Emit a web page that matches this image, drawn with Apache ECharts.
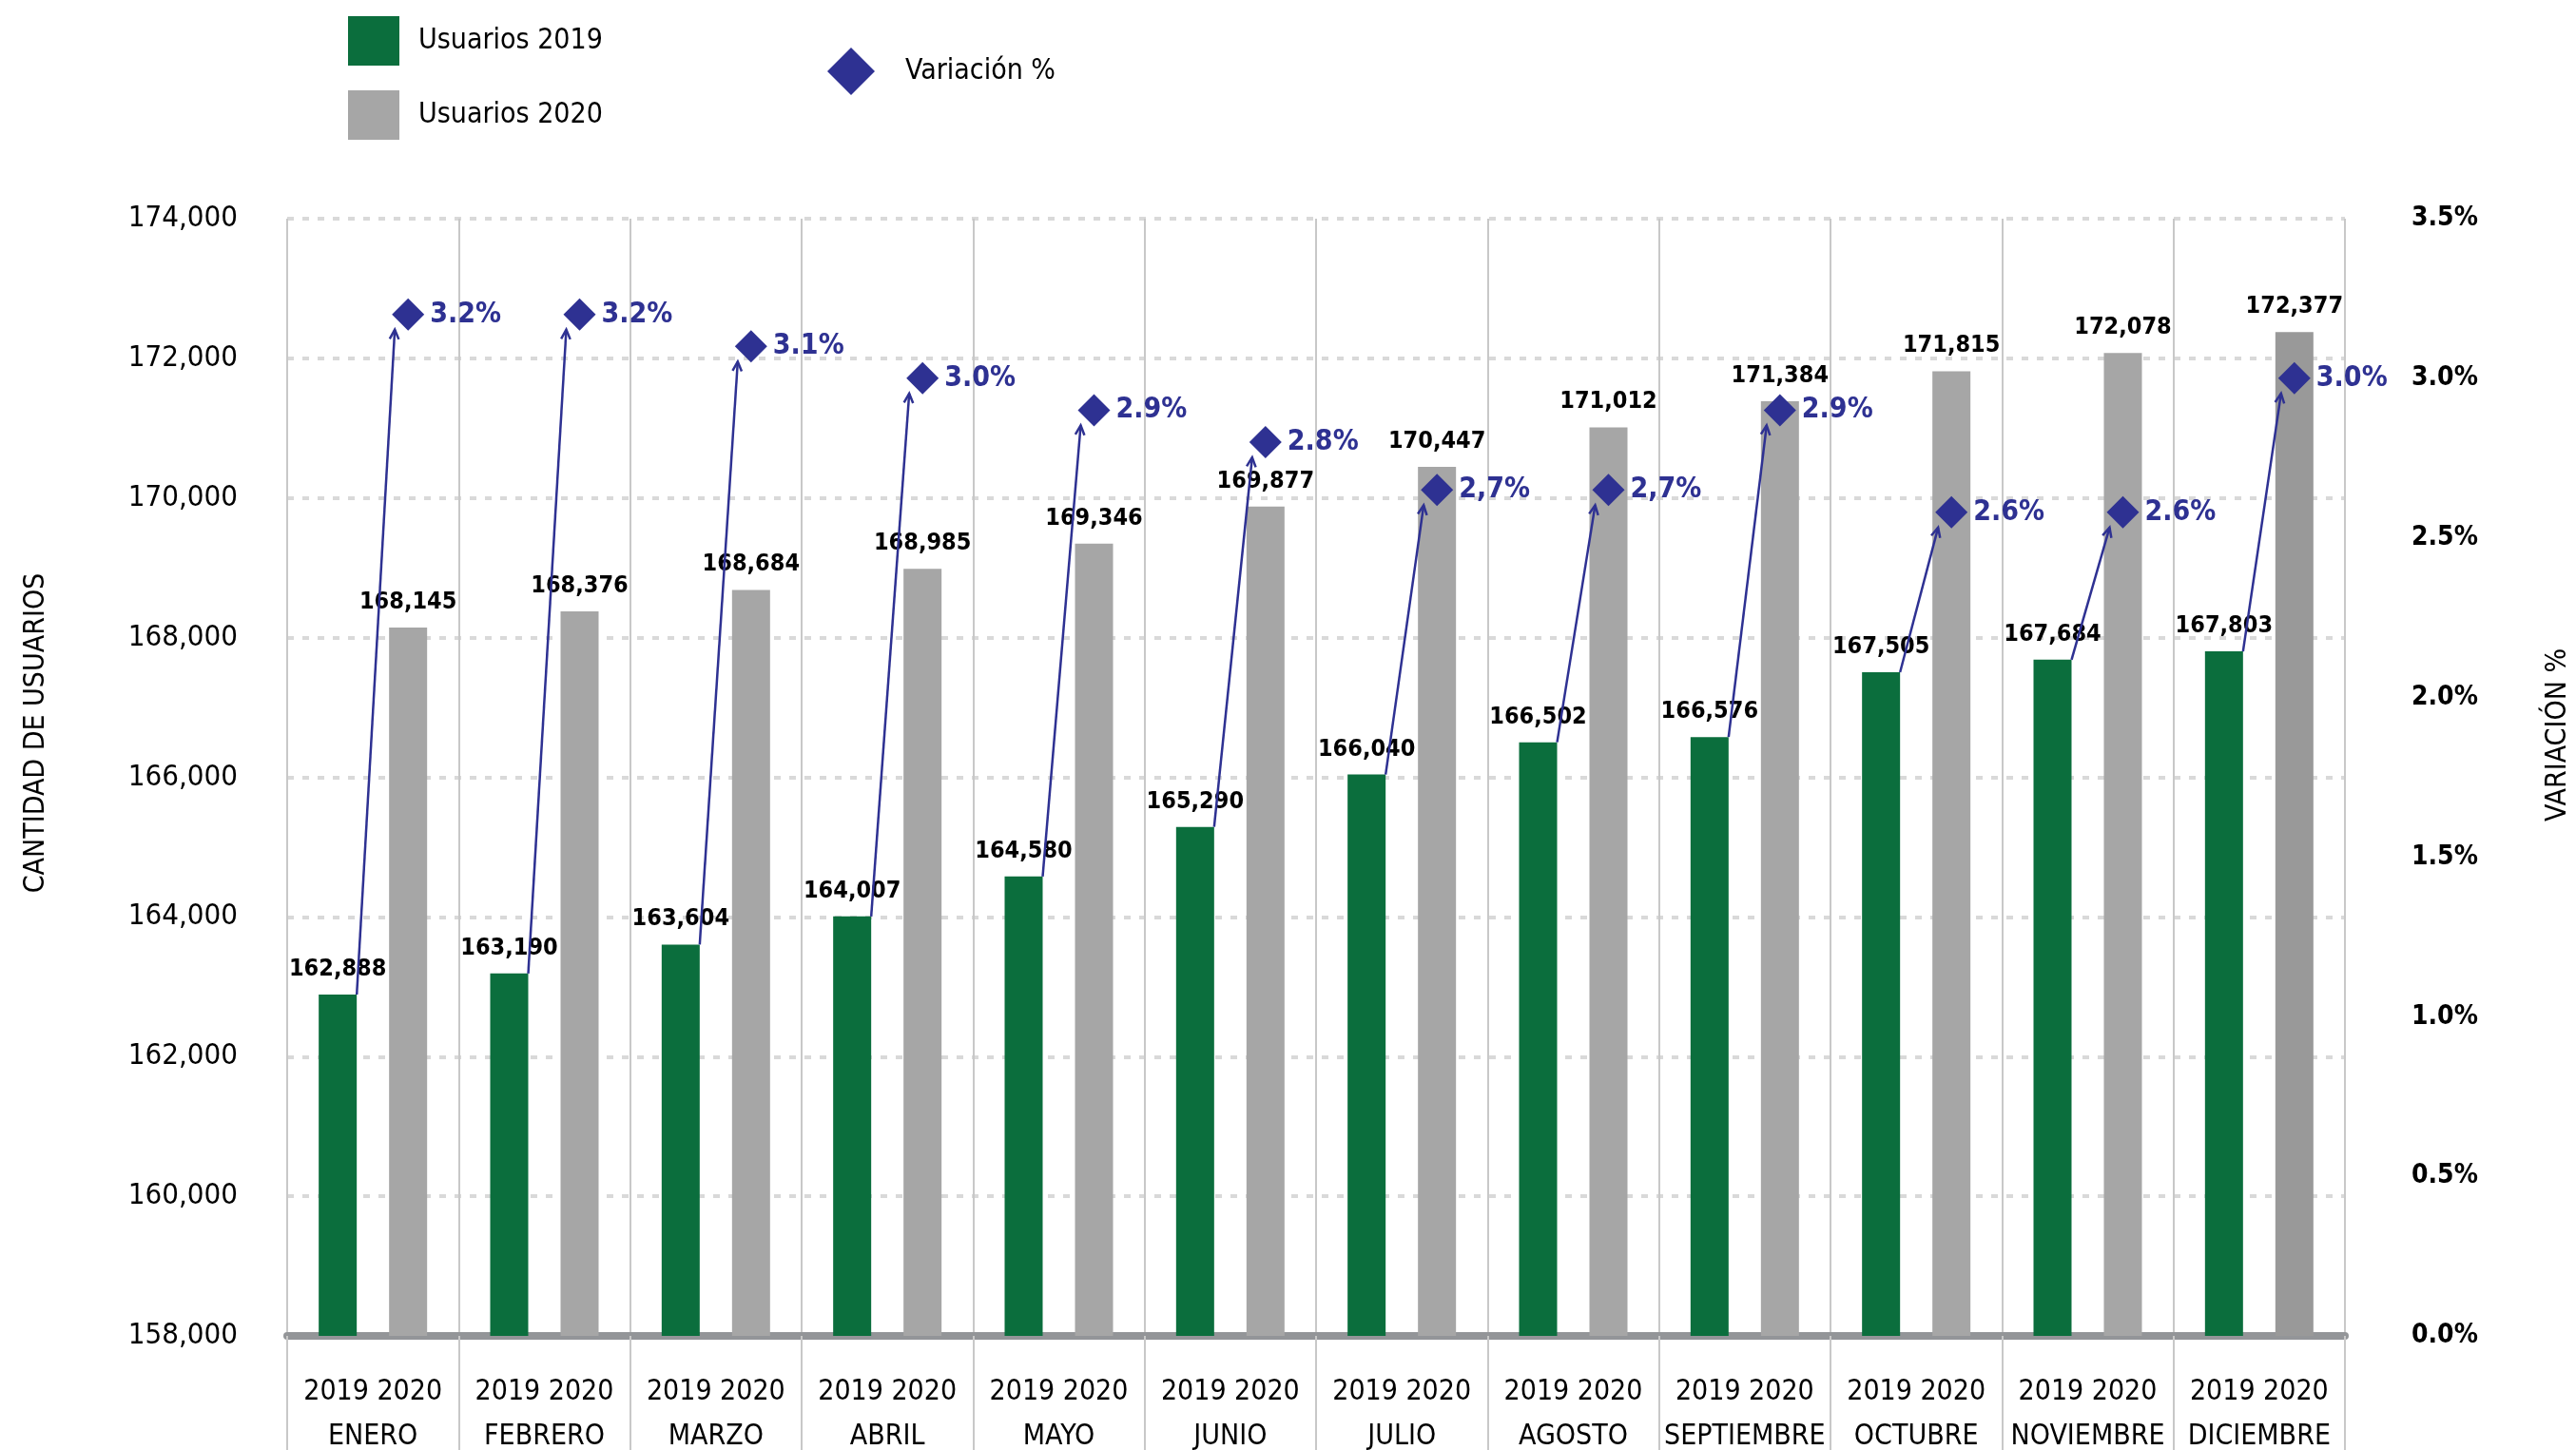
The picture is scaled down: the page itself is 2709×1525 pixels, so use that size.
<!DOCTYPE html>
<html><head><meta charset="utf-8">
<script src="https://cdn.jsdelivr.net/npm/echarts@6/dist/echarts.min.js"></script>
<style>html,body{margin:0;padding:0;background:#fff;}#c{width:2709px;height:1525px;}</style>
</head><body><div id="c"></div>
<script>
const months = ['ENERO','FEBRERO','MARZO','ABRIL','MAYO','JUNIO','JULIO','AGOSTO','SEPTIEMBRE','OCTUBRE','NOVIEMBRE','DICIEMBRE'];
const yearLabels = ['2019','2020'];
const users2019 = [162888,163190,163604,164007,164580,165290,166040,166502,166576,167505,167684,167803];
const users2020 = [168145,168376,168684,168985,169346,169877,170447,171012,171384,171815,172078,172377];
const variation = [3.2,3.2,3.1,3.0,2.9,2.8,2.65,2.65,2.9,2.58,2.58,3.0];
const variationLabels = ['3.2%','3.2%','3.1%','3.0%','2.9%','2.8%','2,7%','2,7%','2.9%','2.6%','2.6%','3.0%'];
const leftMin = 158000, leftMax = 174000, leftStep = 2000;
const rightMin = 0, rightMax = 3.5, rightStep = 0.5;

const FONT = "'DejaVu Sans Condensed','Liberation Sans Narrow',sans-serif";
const NAVY = '#2e3192', GREEN = '#0b6e3d', GRAY = '#a6a6a6', GRAY_DEC = '#999999';
const BAR_W = 40, BAR_GAP = 34;
const chart = echarts.init(document.getElementById('c'));
const fmt = v => v.toLocaleString('en-US');

const option = {
  animation: false,
  backgroundColor: '#fff',
  textStyle: {fontFamily: FONT},
  grid: {left: 302, right: 243, top: 230, bottom: 120, containLabel: false, outerBoundsMode: 'none'},
  legend: [
    {data: ['Usuarios 2019','Usuarios 2020'], orient: 'vertical', left: 361, top: 12,
     itemWidth: 54, itemHeight: 52, itemGap: 26, icon: 'rect', selectedMode: false,
     textStyle: {fontFamily: FONT, fontSize: 30, color: '#000', padding: [0,0,0,15]}},
    {data: ['Variación %'], left: 865, top: 45, itemWidth: 50, itemHeight: 50, icon: 'diamond', selectedMode: false,
     textStyle: {fontFamily: FONT, fontSize: 30, color: '#000', padding: [0,0,0,27]}}
  ],
  xAxis: {
    type: 'category', data: months,
    axisLine: {show: true, lineStyle: {color: '#939598', width: 8}},
    axisTick: {show: true, alignWithLabel: false, interval: 0, length: 125, lineStyle: {color: '#c8c8c8', width: 2}},
    splitLine: {show: true, interval: 0, lineStyle: {color: '#c8c8c8', width: 2}},
    axisLabel: {interval: 0, margin: 36, color: '#000', fontFamily: FONT, fontSize: 30, lineHeight: 47,
      formatter: v => yearLabels.join(' ') + '\n' + v}
  },
  yAxis: [
    {type: 'value', min: leftMin, max: leftMax, interval: leftStep, position: 'left',
     axisLine: {show: false}, axisTick: {show: false},
     splitLine: {show: true, lineStyle: {color: '#d9d9d9', width: 4, type: [7, 9]}},
     axisLabel: {color: '#000', fontFamily: FONT, fontSize: 31, margin: 52, formatter: fmt}},
    {type: 'value', min: rightMin, max: rightMax, interval: rightStep, position: 'right',
     axisLine: {show: false}, axisTick: {show: false}, splitLine: {show: false},
     axisLabel: {color: '#000', fontFamily: FONT, fontSize: 28, fontWeight: 'bold', margin: 70, align: 'left',
       formatter: v => v.toFixed(1) + '%'}}
  ],
  series: [
    {type: 'bar', name: 'Usuarios 2019', data: users2019, barWidth: BAR_W, barGap: (BAR_GAP/BAR_W*100) + '%',
     itemStyle: {color: GREEN}, z: 2,
     label: {show: true, position: 'top', distance: 14, color: '#000', fontFamily: FONT, fontSize: 25, fontWeight: 'bold',
       formatter: p => fmt(p.value)}},
    {type: 'bar', name: 'Usuarios 2020', barWidth: BAR_W,
     data: users2020.map((v, i) => i === users2020.length - 1 ? {value: v, itemStyle: {color: GRAY_DEC}} : v),
     itemStyle: {color: GRAY}, z: 2,
     label: {show: true, position: 'top', distance: 14, color: '#000', fontFamily: FONT, fontSize: 25, fontWeight: 'bold',
       formatter: p => fmt(p.value)}},
    {type: 'custom', name: 'arrows', yAxisIndex: 0, silent: true, z: 6,
     data: months.map((m, i) => [i, users2019[i], variation[i]]),
     renderItem: (params, api) => {
       const i = api.value(0);
       const c = api.coord([i, api.value(1)]);
       const off = (BAR_W + BAR_GAP) / 2;
       const x0 = c[0] - off + BAR_W / 2, y0 = c[1];
       const py = chart.convertToPixel({yAxisIndex: 1}, api.value(2));
       const x1 = c[0] + off - 14, y1 = py + 16;
       const ang = Math.atan2(y1 - y0, x1 - x0);
       const L = 11, a = 0.45;
       const h1 = [x1 - L * Math.cos(ang - a), y1 - L * Math.sin(ang - a)];
       const h2 = [x1 - L * Math.cos(ang + a), y1 - L * Math.sin(ang + a)];
       return {type: 'group', children: [
         {type: 'line', shape: {x1: x0, y1: y0, x2: x1, y2: y1}, style: {stroke: NAVY, lineWidth: 2.5}},
         {type: 'polyline', shape: {points: [h1, [x1, y1], h2]}, style: {stroke: NAVY, lineWidth: 2.5, fill: null}}
       ]};
     }},
    {type: 'scatter', name: 'Variación %', yAxisIndex: 1, data: variation, symbol: 'diamond', symbolSize: 34,
     symbolOffset: [(BAR_W + BAR_GAP) / 2, 0], itemStyle: {color: NAVY, opacity: 1}, z: 10,
     label: {show: true, position: 'right', distance: 6, color: NAVY, fontFamily: FONT, fontSize: 30, fontWeight: 'bold',
       formatter: p => variationLabels[p.dataIndex]}}
  ],
  graphic: [
    {type: 'text', x: 38, y: 771, rotation: Math.PI / 2,
     style: {text: 'CANTIDAD DE USUARIOS', fontFamily: FONT, fontSize: 30, fill: '#000', align: 'center', verticalAlign: 'middle'}},
    {type: 'text', x: 2690, y: 773, rotation: Math.PI / 2,
     style: {text: 'VARIACIÓN %', fontFamily: FONT, fontSize: 30, fill: '#000', align: 'center', verticalAlign: 'middle'}}
  ]
};
chart.setOption(option);
</script></body></html>
